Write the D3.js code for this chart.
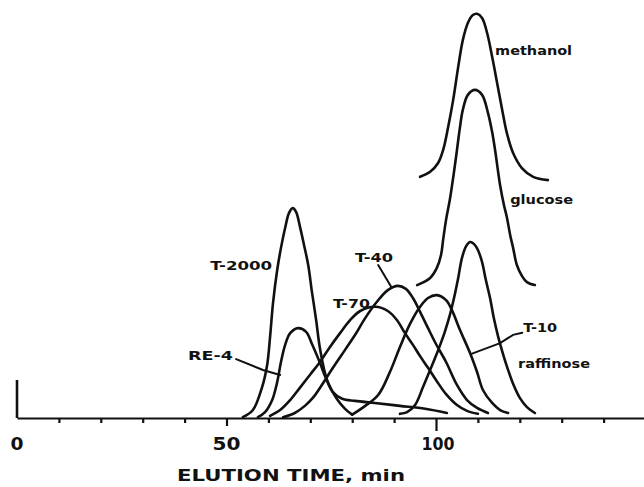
<!DOCTYPE html>
<meta charset="utf-8">
<style>
    body { margin: 0; background: #fff; }
    .curve { fill: none; stroke: #111; stroke-width: 2.6px; stroke-linejoin: round; stroke-linecap: round; }
    .lead { fill: none; stroke: #111; stroke-width: 2px; stroke-linecap: round; }
    .axis path, .axis line { stroke: #111; stroke-width: 2.2px; }
    .lbl { font-family: "DejaVu Sans"; font-weight: bold; font-size: 13px; fill: #111; }
    .num { font-family: "DejaVu Sans"; font-weight: bold; font-size: 18px; fill: #111; }
    .title { font-family: "DejaVu Sans"; font-weight: bold; font-size: 16px; fill: #111; }
</style>
<svg width="644" height="487"></svg>
<script src="https://d3js.org/d3.v7.min.js"></script>
<script>

    // elution time (min), detector response (arbitrary, 0-100)
    var t2000 = [[53.9,0.2],[56.3,1.9],[58.5,7.4],[59.7,12.7],[60.4,19.4],[61.1,27.5],[62.1,35.4],[63.0,40.7],
        [64.0,45.5],[64.9,49.0],[65.8,50.2],[66.6,49.3],[67.5,45.9],[68.5,41.4],[69.5,36.6],[70.4,30.1],
        [71.4,23.4],[72.3,16.7],[74.0,9.1],[76.4,4.5],[78.3,2.2],[80.0,0.8]];

    var re4 = [[57.5,0.2],[59.2,1.4],[60.9,4.3],[62.1,8.6],[63.0,13.4],[64.0,17.5],[65.2,20.3],[67.1,21.5],
        [69.0,20.6],[70.4,17.7],[72.3,13.2],[73.6,9.8],[75.4,6.2],[77.6,4.6],[80.7,4.1],[85.4,3.6],
        [91.4,2.9],[97.4,2.2],[102.6,1.2]];

    var t70 = [[60.4,0.5],[62.8,1.9],[65.2,4.3],[67.5,7.2],[69.9,10.3],[72.3,13.4],[74.7,17.0],[77.1,20.3],
        [79.5,23.4],[81.9,25.6],[85.5,26.6],[88.5,25.6],[90.7,23.4],[92.6,20.3],[94.5,17.5],[96.2,14.8],
        [98.1,12.0],[100.0,9.1],[102.4,5.7],[105.0,3.1],[107.4,1.7],[110.0,1.0]];

    var t40 = [[63.5,0.2],[66.3,1.2],[68.7,2.9],[70.6,4.8],[72.3,7.2],[75.4,12.0],[78.3,16.3],[80.7,19.9],
        [83.1,23.9],[85.9,27.8],[88.5,30.6],[90.9,31.6],[92.8,30.9],[94.5,28.7],[96.2,25.4],[98.1,21.5],
        [100.0,17.7],[102.4,13.4],[105.0,7.9],[107.4,4.3],[109.8,2.4],[112.4,1.2]];

    var t10 = [[80.0,0.8],[83.1,2.9],[86.2,5.5],[89.0,11.0],[91.4,17.0],[93.8,22.5],[96.2,26.6],[98.1,28.7],
        [100.2,29.4],[102.4,28.2],[103.8,25.8],[105.7,21.1],[108.1,15.6],[109.8,11.0],[111.2,6.7],
        [113.4,3.6],[115.3,1.9],[117.2,1.2]];

    var raffinose = [[91.4,1.0],[93.1,1.4],[95.0,3.1],[96.9,7.4],[98.6,11.5],[99.8,14.4],[101.0,17.5],
        [102.1,20.6],[103.3,24.6],[104.3,28.7],[105.3,33.5],[106.2,38.3],[107.2,41.1],[108.1,42.1],
        [109.1,41.6],[110.0,40.2],[111.0,37.3],[111.9,33.0],[112.9,28.7],[113.8,23.9],[114.8,19.6],
        [116.0,15.3],[117.2,11.5],[118.6,7.7],[120.0,4.8],[121.7,2.6],[123.6,1.2]];

    var glucose = [[95.5,31.8],[98.6,33.5],[100.2,35.9],[101.2,39.0],[101.7,42.6],[102.4,47.4],[103.3,52.2],
        [104.3,58.9],[105.0,64.1],[105.7,69.4],[106.4,73.7],[107.6,77.3],[109.3,78.5],[111.0,77.3],
        [112.4,73.0],[113.4,68.4],[114.1,64.1],[115.3,55.7],[116.2,51.0],[116.9,48.1],[117.7,43.8],
        [118.4,40.7],[119.3,36.6],[120.5,34.0],[121.7,32.5],[123.6,31.8]];

    var methanol = [[96.2,57.7],[98.6,58.9],[100.5,61.0],[101.7,64.1],[102.9,69.6],[104.1,76.1],[105.3,84.0],
        [106.4,90.4],[107.6,94.5],[108.8,96.4],[109.8,96.7],[111.0,95.7],[112.2,92.1],[113.4,86.4],
        [114.6,80.1],[115.8,73.7],[116.9,68.2],[118.4,63.4],[120.5,59.8],[123.2,57.7],[126.7,56.9]];

    var minorTicks = [10, 20, 30, 40, 60, 70, 80, 90, 110, 120, 130, 140];
    var tickLabels = [0, 50, 100];

    // label text, left end (time, response), width
    var labels = [
        ["T-2000", 46.1, 35.4, 62],
        ["RE-4", 40.8, 13.9, 45],
        ["T-70", 75.4, 26.3, 37],
        ["T-40", 80.7, 37.3, 38],
        ["T-10", 120.8, 20.6, 34],
        ["raffinose", 119.6, 12.0, 72],
        ["glucose", 117.7, 51.2, 63],
        ["methanol", 114.1, 86.8, 77]
    ];

    var leaders = [
        [[52.3,14.1],[58.7,11.5],[62.8,10.3]],
        [[86.2,36.6],[89.3,31.4]],
        [[120.6,20.4],[118.4,19.9],[115.3,17.9],[108.6,15.4]]
    ];

    var svg = d3.select("svg");

    var x = d3.scaleLinear().domain([0, 150]).range([17, 645.5]);
    var y = d3.scaleLinear().domain([0, 100]).range([418, 0]);

    var line = d3.line()
        .x(function (d) { return x(d[0]); })
        .y(function (d) { return y(d[1]); })
        .curve(d3.curveCatmullRom.alpha(0.5));

    var lead = d3.line()
        .x(function (d) { return x(d[0]); })
        .y(function (d) { return y(d[1]); });

    // axes
    svg.append("g").attr("class", "axis")
        .attr("transform", "translate(0," + y(0) + ")")
        .call(d3.axisBottom(x).tickValues(minorTicks).tickSize(5).tickSizeOuter(0).tickFormat(""));

    svg.append("g").attr("class", "axis")
        .attr("transform", "translate(0," + y(0) + ")")
        .call(d3.axisBottom(x).tickValues([50]).tickSize(8).tickFormat(""))
        .select(".domain").remove();

    svg.append("g").attr("class", "axis")
        .attr("transform", "translate(0," + y(0) + ")")
        .call(d3.axisBottom(x).tickValues([100]).tickSize(13).tickFormat(""))
        .select(".domain").remove();

    svg.append("line")
        .attr("x1", x(0)).attr("x2", x(0))
        .attr("y1", y(0)).attr("y2", y(9.1))
        .attr("stroke", "#111").attr("stroke-width", 2.6);

    svg.selectAll(".num").data(tickLabels).enter().append("text")
        .attr("class", "num")
        .attr("x", function (d) { return x(d) + (d === 100 ? 2 : 0); })
        .attr("y", 450)
        .attr("text-anchor", "middle")
        .attr("textLength", function (d) { return d === 0 ? 13 : d === 50 ? 28 : 33; })
        .attr("lengthAdjust", "spacingAndGlyphs")
        .text(function (d) { return d; });

    svg.append("text").attr("class", "title")
        .attr("x", 291).attr("y", 481)
        .attr("text-anchor", "middle")
        .attr("textLength", 228)
        .attr("lengthAdjust", "spacingAndGlyphs")
        .text("ELUTION TIME, min");

    // peaks
    [t2000, re4, t70, t40, t10, raffinose, glucose, methanol].forEach(function (s) {
        svg.append("path").attr("class", "curve").attr("d", line(s));
    });

    leaders.forEach(function (s) {
        svg.append("path").attr("class", "lead").attr("d", lead(s));
    });

    svg.selectAll(".lbl").data(labels).enter().append("text")
        .attr("class", "lbl")
        .attr("x", function (d) { return x(d[1]); })
        .attr("y", function (d) { return y(d[2]); })
        .attr("textLength", function (d) { return d[3]; })
        .attr("lengthAdjust", "spacingAndGlyphs")
        .text(function (d) { return d[0]; });

</script>
